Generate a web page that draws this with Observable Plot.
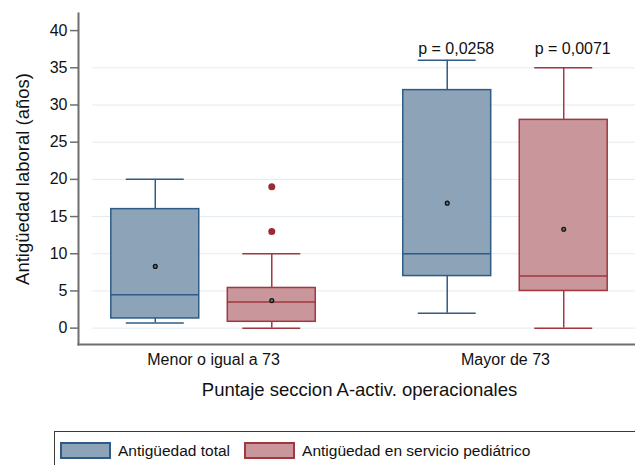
<!DOCTYPE html>
<html>
<head>
<meta charset="utf-8">
<script src="https://cdn.jsdelivr.net/npm/d3@7"></script>
<script src="https://cdn.jsdelivr.net/npm/@observablehq/plot@0.6"></script>
<style>
  html, body { margin: 0; padding: 0; background: #fff; overflow: hidden; width: 635px; height: 465px; }
  body { position: relative; font-family: "Liberation Sans", Arial, Helvetica, sans-serif; color: #111; }
  #chart { position: absolute; left: 0; top: 0; width: 650px; }
  #chart svg { max-width: none !important; }
  #legend { position: absolute; left: 54px; top: 431px; width: 640px; height: 42px; border: 1px solid #3a3a3a; box-sizing: border-box; display: flex; align-items: flex-start; padding: 10px 0 0 5px; font-size: 15.5px; }
  .sw { width: 51px; height: 17px; box-sizing: border-box; border: 2px solid; margin-right: 7px; flex: none; }
  .lab { line-height: 17px; white-space: nowrap; margin-right: 14px; }
</style>
</head>
<body>
<div id="chart"></div>
<div id="legend"></div>
<script>
// ---- data ----
const groups = ["Menor o igual a 73", "Mayor de 73"];
const series = ["Antigüedad total", "Antigüedad en servicio pediátrico"];

const totalMin    = [0.7, 2];
const totalQ1     = [1.3, 7];
const totalMedian = [4.5, 10];
const totalQ3     = [16, 32];
const totalMax    = [20, 36];
const totalMean   = [8.3, 16.8];
const totalP      = ["", "p = 0,0258"];

const pedMin    = [0, 0];
const pedQ1     = [0.85, 5];
const pedMedian = [3.5, 7];
const pedQ3     = [5.4, 28];
const pedMax    = [10, 35];
const pedMean   = [3.7, 13.3];
const pedP      = ["", "p = 0,0071"];

const pedOutlierGroup = ["Menor o igual a 73", "Menor o igual a 73"];
const pedOutlierValue = [19, 13];

const yTicks = [0, 5, 10, 15, 20, 25, 30, 35, 40];
const gridTicks = [0, 5, 10, 15, 20, 25, 30, 35];
const yDomain = [-2.2, 42.3];

const yTitle = "Antigüedad laboral (años)";
const xTitle = "Puntaje seccion A-activ. operacionales";

// ---- styles ----
const fills   = ["#8ca3b8", "#c9979b"];
const strokes = ["#2f5b87", "#a1373f"];
const axisGray = "#6e6e6e";
const offsets = [-58.25, 58.25];  // position of each series within its group band
const boxInset = 72.8;            // box width 88 within band 233.6
const capInset = 87.8;            // whisker cap width 58

const stats = [
  {min: totalMin, q1: totalQ1, med: totalMedian, q3: totalQ3, max: totalMax, mean: totalMean, p: totalP},
  {min: pedMin, q1: pedQ1, med: pedMedian, q3: pedQ3, max: pedMax, mean: pedMean, p: pedP}
];
const rows = stats.map((s, si) => groups.map((g, gi) => ({
  group: g, series: series[si],
  min: s.min[gi], q1: s.q1[gi], median: s.med[gi], q3: s.q3[gi], max: s.max[gi], mean: s.mean[gi], p: s.p[gi]
})));
const outliers = pedOutlierGroup.map((g, i) => ({group: g, value: pedOutlierValue[i]}));

const marks = [
  Plot.ruleY(gridTicks, {stroke: "#e3ebf0", strokeWidth: 1, insetLeft: 14})
];
rows.forEach((data, si) => {
  const dx = offsets[si], stroke = strokes[si];
  marks.push(
    Plot.ruleX(data, {x: "group", y1: "q3", y2: "max", dx, stroke, strokeWidth: 1.5}),
    Plot.ruleX(data, {x: "group", y1: "min", y2: "q1", dx, stroke, strokeWidth: 1.5}),
    Plot.tickY(data, {x: "group", y: "max", dx, insetLeft: capInset, insetRight: capInset, stroke, strokeWidth: 1.5}),
    Plot.tickY(data, {x: "group", y: "min", dx, insetLeft: capInset, insetRight: capInset, stroke, strokeWidth: 1.5}),
    Plot.barY(data, {x: "group", y1: "q1", y2: "q3", dx, insetLeft: boxInset, insetRight: boxInset, fill: fills[si], stroke, strokeWidth: 1.5}),
    Plot.tickY(data, {x: "group", y: "median", dx, insetLeft: boxInset, insetRight: boxInset, stroke, strokeWidth: 1.5}),
    Plot.dot(data, {x: "group", y: "mean", dx, r: 1.9, fill: "#6d7780", stroke: "#111", strokeWidth: 1.3}),
    Plot.text(data, {x: "group", text: "p", frameAnchor: "top", dx: dx + 9, dy: 40, lineAnchor: "bottom", textAnchor: "middle", fontSize: 16, fill: "#111"})
  );
});
marks.push(
  Plot.dot(outliers, {x: "group", y: "value", dx: offsets[1], r: 3.5, fill: "#9b2b33", stroke: "none"}),
  Plot.frame({anchor: "left", stroke: axisGray, strokeWidth: 2}),
  Plot.frame({anchor: "bottom", stroke: axisGray, strokeWidth: 2}),
  Plot.axisY({ticks: yTicks, tickSize: 8, tickPadding: 3, stroke: axisGray, strokeWidth: 1.5, fill: "#111", fontSize: 16, label: null}),
  Plot.axisX({tickSize: 0, tickPadding: 9, fill: "#111", fontSize: 16, label: null}),
  Plot.text([yTitle], {frameAnchor: "left", rotate: -90, dx: -55, textAnchor: "middle", lineAnchor: "middle", fontSize: 18.5, fill: "#111"}),
  Plot.text([xTitle], {frameAnchor: "bottom", dy: 38, lineAnchor: "top", textAnchor: "middle", fontSize: 18.5, fill: "#111"})
);

const chart = Plot.plot({
  width: 650,
  height: 425,
  marginLeft: 78,
  marginRight: 10,
  marginTop: 13,
  marginBottom: 81,
  style: {fontFamily: "'Liberation Sans', Arial, Helvetica, sans-serif", fontSize: "16px", color: "#111", background: "#fff", overflow: "visible", maxWidth: "none"},
  x: {domain: groups, paddingInner: 0.2, paddingOuter: 0.0625, round: false, align: 0.5},
  y: {domain: yDomain},
  marks
});
document.getElementById("chart").appendChild(chart);

// legend
const legend = document.getElementById("legend");
series.forEach((s, i) => {
  const sw = document.createElement("span");
  sw.className = "sw";
  sw.style.background = fills[i];
  sw.style.borderColor = strokes[i];
  const lab = document.createElement("span");
  lab.className = "lab";
  lab.textContent = s;
  legend.appendChild(sw);
  legend.appendChild(lab);
});
</script>
</body>
</html>
